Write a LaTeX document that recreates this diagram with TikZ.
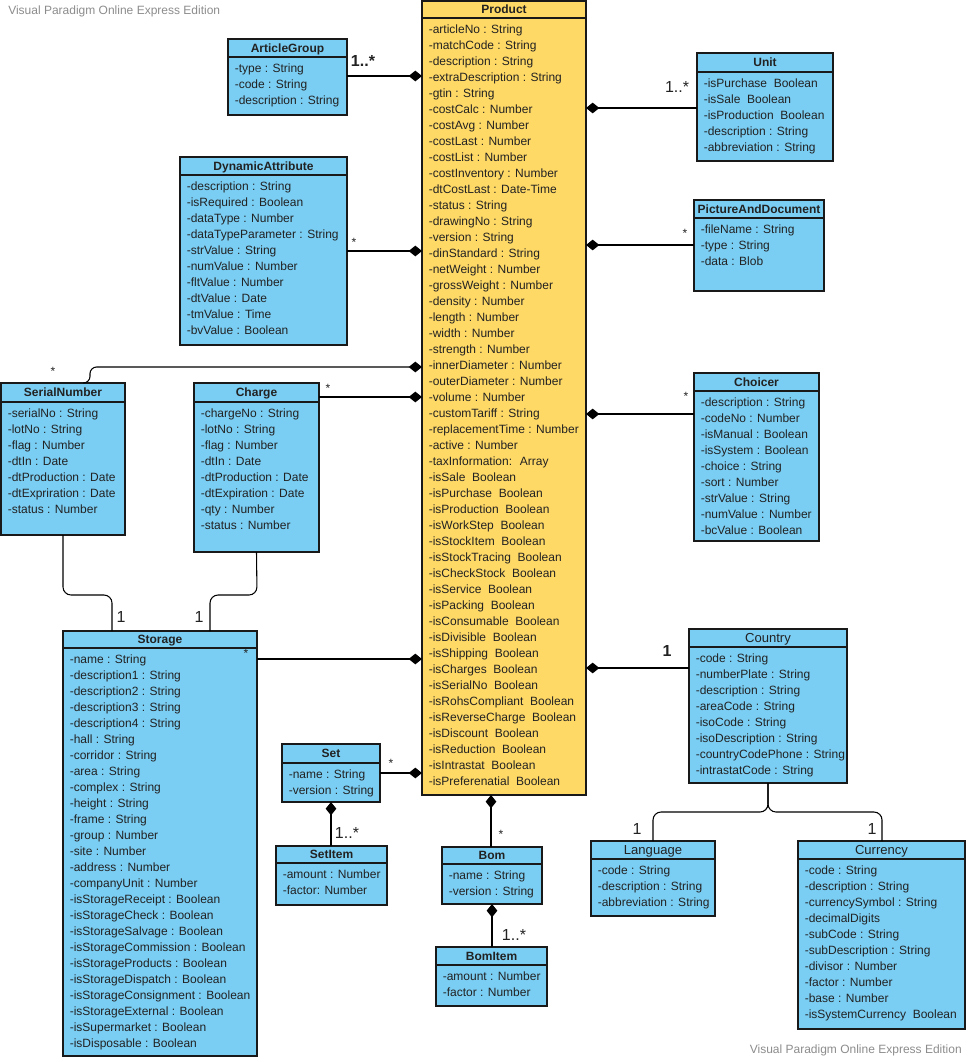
\documentclass[tikz,border=0pt]{standalone}
\usepackage{fontspec}
\setmainfont{Liberation Sans}
\usetikzlibrary{arrows.meta}
\definecolor{clsblue}{HTML}{7ACEF4}
\definecolor{clsyellow}{HTML}{FFD966}
\definecolor{txt}{HTML}{222222}
\definecolor{wm}{HTML}{8C8C8C}
\tikzset{
  cls/.style={draw=black!90, line width=0.9pt, inner sep=0pt, outer sep=0pt, rectangle},
  clsline/.style={draw=black!90, line width=0.9pt},
  clstitle/.style={inner sep=0pt, text=txt, font=\fontsize{9}{12}\selectfont},
  clsattr/.style={inner sep=0pt, align=left, text=txt, font=\fontsize{9}{12}\selectfont},
  conn/.style={draw=black, line width=0.8pt},
  dia/.style={-{Diamond[length=10pt,width=8pt]}},
  aid/.style={{Diamond[length=10pt,width=8pt]}-},
  star/.style={inner sep=0pt, anchor=base, text=txt, font=\fontsize{9}{12}\selectfont},
  mult/.style={inner sep=0pt, anchor=base, text=txt, font=\fontsize{12}{14}\selectfont},
  wmark/.style={inner sep=0pt, text=wm, font=\fontsize{9}{12}\selectfont}
}
% #1 name #2 x1 #3 y1 #4 x2 #5 y2 #6 header line y #7 title #8 fill #9 attributes
\newcommand\umlcls[9]{%
  \node[cls, fill=#8, minimum width={(#4-#2)*0.75pt}, minimum height={(#5-#3)*0.75pt}, anchor=north west] (#1) at (#2,#3) {};
  \draw[clsline] (#2,#6) -- (#4,#6);
  \node[clstitle, anchor=base] (#1t) at ({(#2+#4)/2},{(#3+#6)/2+4.3}) {#7};
  \node[clsattr, anchor=north west] (#1a) at ({#2+6.5},{#6+4}) {\strut #9};
}
\newcommand\plaintitle[1]{\fontsize{9.8}{12}\selectfont #1}
\begin{document}
\begin{tikzpicture}[x=0.75pt,y=-0.75pt]
\useasboundingbox (0,0) rectangle (968,1059);

\node[wmark, anchor=base west] (wm1) at (8,15) {Visual Paradigm Online Express Edition};
\node[wmark, anchor=base east] (wm2) at (962,1053) {Visual Paradigm Online Express Edition};

\umlcls{Product}{422}{1}{586}{795}{18}{\bfseries Product}{clsyellow}{-articleNo : String\\-matchCode : String\\-description : String\\-extraDescription : String\\-gtin : String\\-costCalc : Number\\-costAvg : Number\\-costLast : Number\\-costList : Number\\-costInventory : Number\\-dtCostLast : Date-Time\\-status : String\\-drawingNo : String\\-version : String\\-dinStandard : String\\-netWeight : Number\\-grossWeight : Number\\-density : Number\\-length : Number\\-width : Number\\-strength : Number\\-innerDiameter : Number\\-outerDiameter : Number\\-volume : Number\\-customTariff : String\\-replacementTime : Number\\-active : Number\\-taxInformation:~ Array\\-isSale~ Boolean\\-isPurchase~ Boolean\\-isProduction~ Boolean\\-isWorkStep~ Boolean\\-isStockItem~ Boolean\\-isStockTracing~ Boolean\\-isCheckStock~ Boolean\\-isService~ Boolean\\-isPacking~ Boolean\\-isConsumable~ Boolean\\-isDivisible~ Boolean\\-isShipping~ Boolean\\-isCharges~ Boolean\\-isSerialNo~ Boolean\\-isRohsCompliant~ Boolean\\-isReverseCharge~ Boolean\\-isDiscount~ Boolean\\-isReduction~ Boolean\\-isIntrastat~ Boolean\\-isPreferenatial~ Boolean}

\umlcls{ArticleGroup}{228}{39}{347}{115}{57}{\bfseries ArticleGroup}{clsblue}{-type : String\\-code : String\\-description : String}

\umlcls{DynamicAttribute}{180}{157}{347}{345}{175}{\bfseries DynamicAttribute}{clsblue}{-description : String\\-isRequired : Boolean\\-dataType : Number\\-dataTypeParameter : String\\-strValue : String\\-numValue : Number\\-fltValue : Number\\-dtValue : Date\\-tmValue : Time\\-bvValue : Boolean}

\umlcls{Unit}{697}{53}{833}{161}{72}{\bfseries Unit}{clsblue}{-isPurchase~ Boolean\\-isSale~ Boolean\\-isProduction~ Boolean\\-description : String\\-abbreviation : String}

\umlcls{PictureAndDocument}{694}{200}{824}{291}{218}{\bfseries PictureAndDocument}{clsblue}{-fileName : String\\-type : String\\-data : Blob}

\umlcls{Choicer}{694}{373}{819}{541}{391}{\bfseries Choicer}{clsblue}{-description : String\\-codeNo : Number\\-isManual : Boolean\\-isSystem : Boolean\\-choice : String\\-sort : Number\\-strValue : String\\-numValue : Number\\-bcValue : Boolean}

\umlcls{SerialNumber}{1}{383}{125}{535}{402}{\bfseries SerialNumber}{clsblue}{-serialNo : String\\-lotNo : String\\-flag : Number\\-dtIn : Date\\-dtProduction : Date\\-dtExpriration : Date\\-status : Number}

\umlcls{Charge}{194}{383}{319}{552}{402}{\bfseries Charge}{clsblue}{-chargeNo : String\\-lotNo : String\\-flag : Number\\-dtIn : Date\\-dtProduction : Date\\-dtExpiration : Date\\-qty : Number\\-status : Number}

\umlcls{Storage}{63}{631}{257}{1056}{648}{\bfseries Storage}{clsblue}{-name : String\\-description1 : String\\-description2 : String\\-description3 : String\\-description4 : String\\-hall : String\\-corridor : String\\-area : String\\-complex : String\\-height : String\\-frame : String\\-group : Number\\-site : Number\\-address : Number\\-companyUnit : Number\\-isStorageReceipt : Boolean\\-isStorageCheck : Boolean\\-isStorageSalvage : Boolean\\-isStorageCommission : Boolean\\-isStorageProducts : Boolean\\-isStorageDispatch : Boolean\\-isStorageConsignment : Boolean\\-isStorageExternal : Boolean\\-isSupermarket : Boolean\\-isDisposable : Boolean}

\umlcls{Set}{282}{744}{380}{802}{763}{\bfseries Set}{clsblue}{-name : String\\-version : String}
\umlcls{SetItem}{276}{846}{387}{905}{863}{\bfseries SetItem}{clsblue}{-amount : Number\\-factor: Number}
\umlcls{Bom}{442}{847}{542}{904}{864}{\bfseries Bom}{clsblue}{-name : String\\-version : String}
\umlcls{BomItem}{436}{947}{547}{1006}{965}{\bfseries BomItem}{clsblue}{-amount : Number\\-factor : Number}

\umlcls{Country}{689}{629}{847}{783}{647}{\plaintitle{Country}}{clsblue}{-code : String\\-numberPlate : String\\-description : String\\-areaCode : String\\-isoCode : String\\-isoDescription : String\\-countryCodePhone : String\\-intrastatCode : String}
\umlcls{Language}{591}{841}{715}{916}{859}{\plaintitle{Language}}{clsblue}{-code : String\\-description : String\\-abbreviation : String}
\umlcls{Currency}{798}{841}{965}{1029}{859}{\plaintitle{Currency}}{clsblue}{-code : String\\-description : String\\-currencySymbol : String\\-decimalDigits\\-subCode : String\\-subDescription : String\\-divisor : Number\\-factor : Number\\-base : Number\\-isSystemCurrency~ Boolean}

% connectors
\draw[conn, dia] (ArticleGroup.east |- 0,76) -- (Product.west |- 0,76);
\draw[conn, aid] (Product.east |- 0,108) -- (Unit.west |- 0,108);
\draw[conn, aid] (Product.east |- 0,245) -- (PictureAndDocument.west |- 0,245);
\draw[conn, dia] (DynamicAttribute.east |- 0,251) -- (Product.west |- 0,251);
\draw[conn, dia, rounded corners=5pt] (SerialNumber.north -| 84,0) -- (90,383) -- (90,367) -- (Product.west |- 0,367);
\draw[conn, dia] (Charge.east |- 0,397) -- (Product.west |- 0,397);
\draw[conn, aid] (Product.east |- 0,414) -- (Choicer.west |- 0,414);
\draw[conn, dia] (Storage.east |- 0,659) -- (Product.west |- 0,659);
\draw[conn, dia] (Set.east |- 0,773) -- (Product.west |- 0,773);
\draw[conn, aid] (Set.south) -- (SetItem.north -| Set.south);
\draw[conn, aid] (Product.south -| 491,0) -- (Bom.north -| 491,0);
\draw[conn, aid] (Bom.south) -- (BomItem.north -| Bom.south);
\draw[conn, aid] (Product.east |- 0,668) -- (Country.west |- 0,668);
\draw[conn, rounded corners=6pt] (Country.south) -- (768,812) -- (653,812) -- (Language.north -| 653,0);
\draw[conn, rounded corners=6pt] (Country.south) -- (768,812) -- (882,812) -- (Currency.north -| 882,0);
\draw[conn, rounded corners=6pt] (SerialNumber.south) -- (63,595) -- (112,595) -- (Storage.north -| 112,0);
\draw[conn, rounded corners=6pt] (Charge.south) -- (257,595) -- (210,595) -- (Storage.north -| 210,0);

% multiplicities
\node[mult, font=\fontsize{12}{14}\selectfont\bfseries] (m1) at (363,67) {1..*};
\node[mult] (m2) at (677,93) {1..*};
\node[mult] (m3) at (347,838) {1..*};
\node[mult] (m4) at (514,940) {1..*};
\node[mult, font=\fontsize{12}{14}\selectfont\bfseries] (m5) at (667,656) {1};
\node[mult] (m6) at (637,834) {1};
\node[mult] (m7) at (872,834) {1};
\node[mult] (m8) at (121,622) {1};
\node[mult] (m9) at (199,622) {1};
\node[star] (s1) at (354,247) {*};
\node[star] (s2) at (685,238) {*};
\node[star] (s3) at (686,400) {*};
\node[star] (s4) at (53,375) {*};
\node[star] (s5) at (328,392) {*};
\node[star] (s6) at (246,657) {*};
\node[star] (s7) at (391,767) {*};
\node[star] (s8) at (501,838) {*};
\end{tikzpicture}
\end{document}
